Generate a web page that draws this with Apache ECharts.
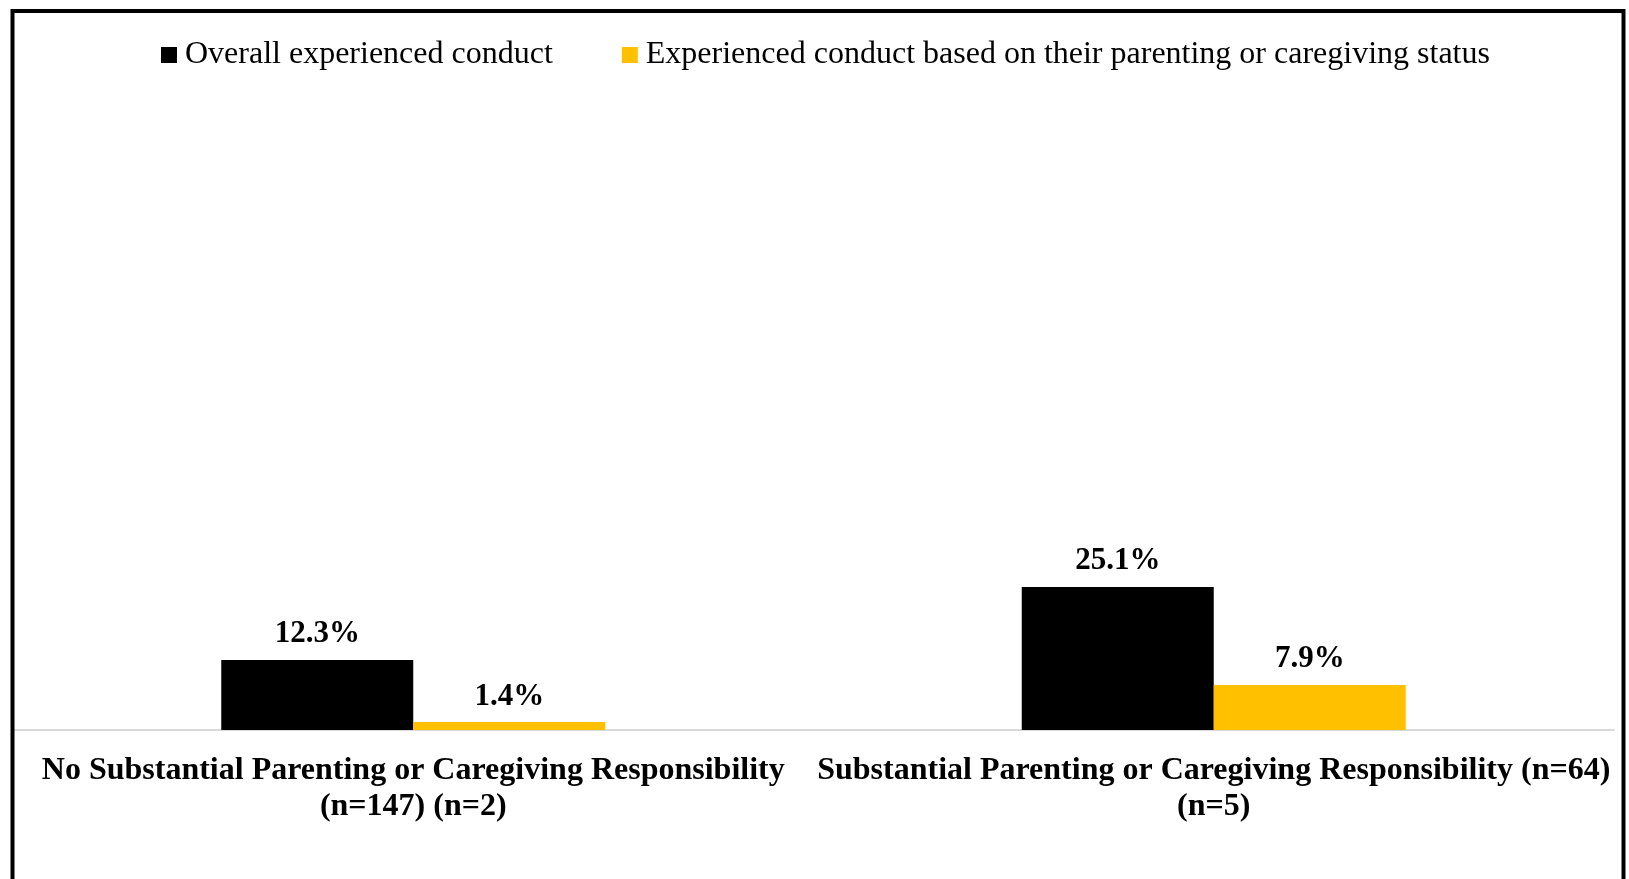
<!DOCTYPE html>
<html>
<head>
<meta charset="utf-8">
<title>Experienced conduct by parenting or caregiving responsibility</title>
<script src="https://cdn.jsdelivr.net/npm/echarts@6/dist/echarts.min.js"></script>
<style>
  html, body { margin: 0; padding: 0; background: #fff; }
  #chart { width: 1629px; height: 879px; }
</style>
</head>
<body>
<div id="chart"></div>
<script>
// Groups shown along the horizontal axis (line break keeps the two-line layout)
const categories = [
  'No Substantial Parenting or Caregiving Responsibility\n(n=147) (n=2)',
  'Substantial Parenting or Caregiving Responsibility (n=64)\n(n=5)'
];

const seriesNames = [
  'Overall experienced conduct',
  'Experienced conduct based on their parenting or caregiving status'
];

// Percentages of respondents
const overallConduct = [12.3, 25.1];
const statusBasedConduct = [1.4, 7.9];

const serif = "'Liberation Serif', 'Times New Roman', serif";

const chart = echarts.init(document.getElementById('chart'), null, { renderer: 'canvas' });

const barLabel = {
  show: true,
  position: 'top',
  distance: 10,
  formatter: p => p.value.toFixed(1) + '%',
  fontFamily: serif,
  fontSize: 31,
  fontWeight: 'bold',
  color: '#000'
};

chart.setOption({
  backgroundColor: '#fff',
  animation: false,
  textStyle: { fontFamily: serif },
  graphic: [{
    type: 'rect',
    shape: { x: 12.5, y: 11, width: 1611, height: 900 },
    style: { fill: 'none', stroke: '#000', lineWidth: 4 },
    z: 10
  }],
  legend: {
    left: 156,
    top: 34,
    itemWidth: 16,
    itemHeight: 16,
    itemGap: 69,
    icon: 'rect',
    textStyle: {
      fontFamily: serif,
      fontSize: 32,
      color: '#000',
      padding: [0, 0, 0, 3]
    },
    data: seriesNames
  },
  grid: {
    left: 13,
    right: 15,
    top: 160,
    bottom: 149,
    containLabel: false
  },
  xAxis: {
    type: 'category',
    data: categories,
    axisLine: { show: true, lineStyle: { color: '#d9d9d9', width: 2 } },
    axisTick: { show: false },
    axisLabel: {
      interval: 0,
      margin: 23,
      fontFamily: serif,
      fontSize: 32,
      fontWeight: 'bold',
      lineHeight: 36,
      color: '#000',
      align: 'center'
    }
  },
  yAxis: {
    type: 'value',
    min: 0,
    max: 100,
    show: false,
    splitLine: { show: false }
  },
  series: [
    {
      name: seriesNames[0],
      type: 'bar',
      data: overallConduct,
      barWidth: 192,
      barGap: '0%',
      itemStyle: { color: '#000000' },
      label: barLabel
    },
    {
      name: seriesNames[1],
      type: 'bar',
      data: statusBasedConduct,
      barWidth: 192,
      barGap: '0%',
      itemStyle: { color: '#FFC000' },
      label: barLabel
    }
  ]
});
</script>
</body>
</html>
